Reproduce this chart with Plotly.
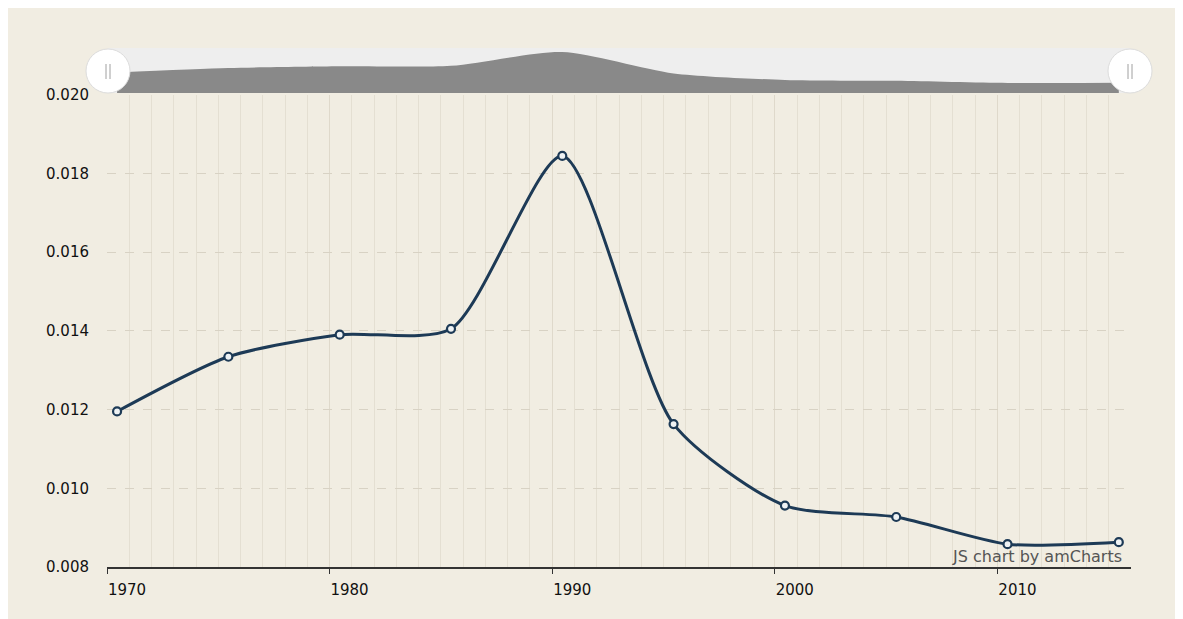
import plotly.graph_objects as go

# 연도별 값 (포인트는 각 해 중반에 찍혀 있음)
years = ["1970-06-15", "1975-06-15", "1980-06-15", "1985-06-15", "1990-06-15",
         "1995-06-15", "2000-06-15", "2005-06-15", "2010-06-15", "2015-06-15"]
values = [0.01195, 0.01334, 0.01390, 0.01405, 0.01844,
          0.01163, 0.00956, 0.00927, 0.00858, 0.00863]
y_ticks = [0.008, 0.010, 0.012, 0.014, 0.016, 0.018, 0.020]

BG = "#f1ede2"
INK = "#1d3a56"
FONT = "DejaVu Sans"
SMOOTH = 0.7

# 페이지 body 여백(8px)만큼 줄인 크기
W, H = 1175, 611
L, R, T, B = 99, 52, 40, 52
PW, PH = W - L - R, H - T - B
OFF = 8  # 화면 좌표 -> 그림 좌표


def px(x):
    return (x - OFF - L) / PW


def py(y):
    return (H - B - (y - OFF)) / PH


fig = go.Figure()

# 스크롤바 미니 그래프 (회색 영역)
fig.add_trace(go.Scatter(
    x=years, y=values, xaxis="x2", yaxis="y2", mode="lines",
    line=dict(color="#898989", width=0, shape="spline", smoothing=SMOOTH),
    fill="tozeroy", fillcolor="#898989", hoverinfo="skip", showlegend=False,
))

# 메인 라인
fig.add_trace(go.Scatter(
    x=years, y=values, mode="lines+markers",
    line=dict(color=INK, width=3, shape="spline", smoothing=SMOOTH),
    marker=dict(size=8, color="#eef2f4", line=dict(color=INK, width=2.2)),
    showlegend=False,
))

shapes = [
    # 스크롤바 배경
    dict(type="rect", xref="paper", yref="paper", x0=px(108), x1=px(1130), y0=py(93), y1=py(48),
         fillcolor="#eeeeee", line=dict(width=0), layer="below"),
]
# 스크롤바 손잡이
for cx in (108, 1130):
    shapes.append(dict(type="circle", xref="paper", yref="paper",
                       x0=px(cx - 22), x1=px(cx + 22), y0=py(71 + 22), y1=py(71 - 22),
                       fillcolor="white", line=dict(color="#dcdcdc", width=1)))
    for dx in (-2, 2):
        shapes.append(dict(type="line", xref="paper", yref="paper",
                           x0=px(cx + dx), x1=px(cx + dx), y0=py(79), y1=py(64),
                           line=dict(color="#a0a0a0", width=1)))

fig.update_layout(
    width=W, height=H,
    margin=dict(l=L, r=R, t=T, b=B),
    paper_bgcolor=BG, plot_bgcolor=BG,
    font=dict(family=FONT, size=15, color="#111111"),
    shapes=shapes,
    xaxis=dict(
        type="date", range=["1970-01-01", "2016-01-01"],
        tick0="1970-01-01", dtick="M120", tickformat="%Y",
        ticks="outside", ticklen=5, tickcolor="#333333", tickwidth=1,
        ticklabelshift=20, ticklabelstandoff=3,
        showline=True, linecolor="#333333", linewidth=1.5,
        showgrid=True, gridcolor="#dfd9cb", gridwidth=1,
        minor=dict(dtick="M12", tick0="1970-01-01", showgrid=True,
                   gridcolor="#e4dfd2", gridwidth=1),
        zeroline=False, anchor="y",
    ),
    yaxis=dict(
        domain=[0, py(94.5)], range=[0.008, 0.020],
        tickvals=y_ticks, tickformat=".3f",
        showgrid=True, gridcolor="#d8d2c4", griddash="dash", gridwidth=1,
        zeroline=False, showline=False, ticks="", ticklabelstandoff=17,
    ),
    xaxis2=dict(
        type="date", range=["1970-01-01", "2016-01-01"], anchor="y2",
        visible=False, showgrid=False,
    ),
    yaxis2=dict(
        domain=[py(93), 1], range=[0.0054, 0.0197], anchor="x2",
        visible=False, showgrid=False,
    ),
    annotations=[
        dict(xref="paper", yref="paper", x=px(1124), y=py(556), xanchor="right", yanchor="middle",
             text="JS chart by amCharts", showarrow=False,
             font=dict(family=FONT, size=16, color="#555555")),
    ],
)

fig.write_html("out.html")
